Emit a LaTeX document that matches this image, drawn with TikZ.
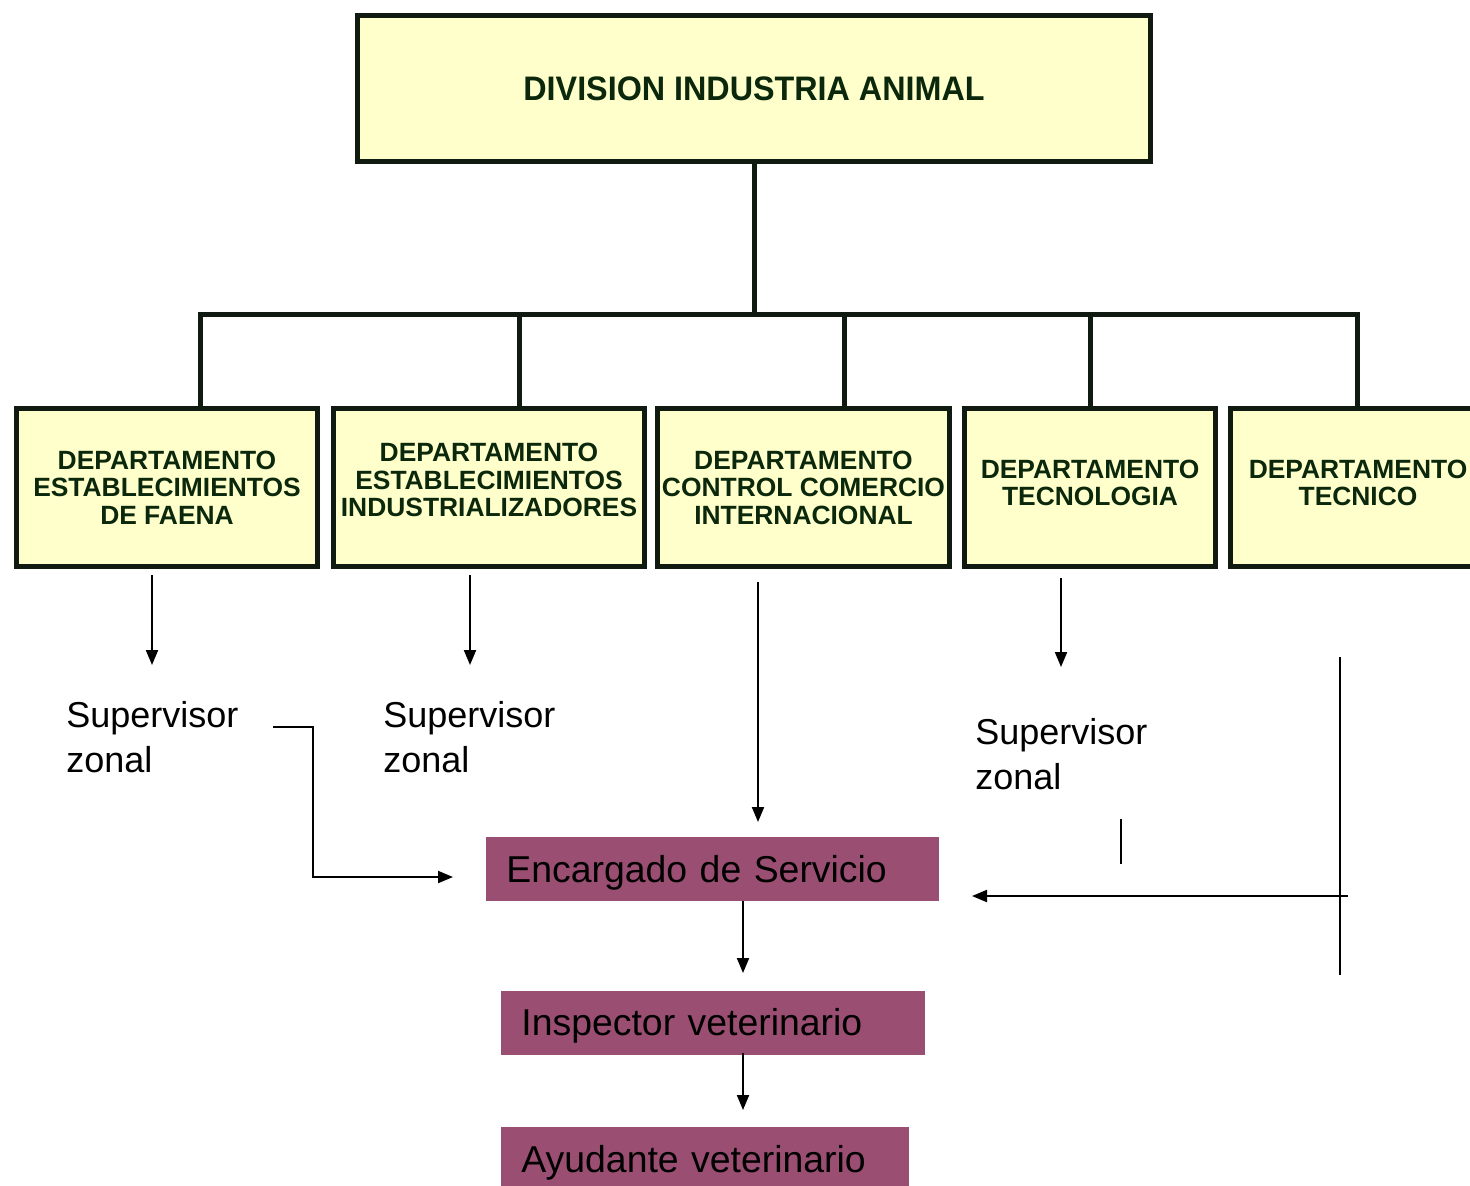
\documentclass[tikz,border=0pt]{standalone}
\usepackage{fontspec}
\usepackage{graphicx}
\setmainfont{Liberation Sans}
\usetikzlibrary{arrows.meta}
\definecolor{boxfill}{RGB}{255,255,204}
\definecolor{boxline}{RGB}{16,26,16}
\definecolor{boxtext}{RGB}{12,40,12}
\definecolor{plum}{RGB}{154,78,114}
\tikzset{
  topbox/.style={draw=boxline, line width=2.5pt, fill=boxfill, minimum width=396.5pt, minimum height=73pt, inner sep=0pt,
    font=\fontsize{17}{20}\selectfont\bfseries, text=boxtext},
  deptbox/.style={draw=boxline, line width=2.5pt, fill=boxfill, minimum height=79pt, inner sep=0pt},
  depttext/.style={inner sep=0pt, align=center, font=\fontsize{13.2}{13.75}\selectfont\bfseries, text=boxtext},
  orgline/.style={draw=boxline, line width=2.5pt},
  supv/.style={anchor=north west, inner sep=0pt, align=left, font=\fontsize{18}{22.5}\selectfont},
  rolebox/.style={fill=plum, inner xsep=10pt, inner ysep=0pt, minimum height=32pt, align=left,
    text height=16pt, text depth=3pt,
    font=\fontsize{18.7}{22}\selectfont, anchor=west},
  arr/.style={line width=1pt, -{Triangle[width=6pt,length=7.5pt]}},
  plain/.style={line width=1pt}
}
\begin{document}
\begin{tikzpicture}[x=0.5pt,y=-0.5pt]
\clip (0,0) rectangle (1470,1185);
\fill[white] (0,0) rectangle (1470,1185);

% top
\node[topbox] (top) at (754,88.5) {\scalebox{0.95}[1]{DIVISION INDUSTRIA ANIMAL}};

% departments
\node[deptbox, minimum width=150.5pt] (d1) at (167,487.5) {};
\node[deptbox, minimum width=155.5pt] (d2) at (489,487.5) {};
\node[deptbox, minimum width=146pt] (d3) at (803.5,487.5) {};
\node[deptbox, minimum width=125.5pt] (d4) at (1090,487.5) {};
\node[deptbox, minimum width=127.5pt] (d5) at (1358,487.5) {};
\node[depttext] (d1t) at (d1.center) {DEPARTAMENTO\\ESTABLECIMIENTOS\\DE FAENA};
\node[depttext] (d2t) at ([yshift=3.6pt]d2.center) {DEPARTAMENTO\\ESTABLECIMIENTOS\\INDUSTRIALIZADORES};
\node[depttext] (d3t) at (d3.center) {DEPARTAMENTO\\CONTROL COMERCIO\\INTERNACIONAL};
\node[depttext] (d4t) at ([yshift=2.2pt]d4.center) {DEPARTAMENTO\\TECNOLOGIA};
\node[depttext] (d5t) at ([yshift=2.2pt]d5.center) {DEPARTAMENTO\\TECNICO};

% bus
\coordinate (bus) at (754,314);
\coordinate (b1) at (200,314);
\coordinate (b2) at (519,314);
\coordinate (b3) at (844,314);
\coordinate (b4) at (1090,314);
\coordinate (b5) at (1357,314);
\draw[orgline] (top.south) -- (bus);
\draw[orgline, line cap=rect] (b1) -- (b5);
\draw[orgline] (b1) -- (b1 |- d1.north);
\draw[orgline] (b2) -- (b2 |- d2.north);
\draw[orgline] (b3) -- (b3 |- d3.north);
\draw[orgline] (b4) -- (b4 |- d4.north);
\draw[orgline] (b5) -- (b5 |- d5.north);

% supervisors
\node[supv] (s1) at (66,701) {Supervisor\\zonal};
\node[supv] (s2) at (383,701) {Supervisor\\zonal};
\node[supv] (s3) at (975,718) {Supervisor\\zonal};

% role boxes
\node[rolebox, text width=206.5pt] (enc) at (486,869) {Encargado de Servicio};
\node[rolebox, text width=192pt] (insp) at (501,1022.5) {Inspector veterinario};
\node[rolebox, text width=184pt] (ayu) at (501,1159) {Ayudante veterinario};

% arrows from departments
\coordinate (a1s) at (152,575); \coordinate (a1e) at (152,665);
\coordinate (a2s) at (470,575); \coordinate (a2e) at (470,665);
\coordinate (a3s) at (758,582); \coordinate (a3e) at (758,822);
\coordinate (a4s) at (1061,578); \coordinate (a4e) at (1061,667);
\draw[arr] (a1s) -- (a1e);
\draw[arr] (a2s) -- (a2e);
\draw[arr] (a3s) -- (a3e);
\draw[arr] (a4s) -- (a4e);

% supervisor 1 to encargado
\coordinate (c1s) at (273,727);
\coordinate (c1e) at (453,877);
\draw[arr] (c1s) -- (313,727) |- (c1e);

% chain
\coordinate (e1s) at (743,901); \coordinate (e1e) at (743,973);
\coordinate (e2s) at (743,1053); \coordinate (e2e) at (743,1110);
\draw[arr] (e1s) -- (e1e);
\draw[arr] (e2s) -- (e2e);

% right side
\coordinate (r1) at (1340,657); \coordinate (r2) at (1340,975);
\draw[plain] (r1) -- (r2);
\coordinate (h1) at (1348,896); \coordinate (h2) at (972,896);
\draw[arr] (h1) -- (h2);
\coordinate (t1) at (1121,819); \coordinate (t2) at (1121,864);
\draw[plain] (t1) -- (t2);
\end{tikzpicture}
\end{document}
